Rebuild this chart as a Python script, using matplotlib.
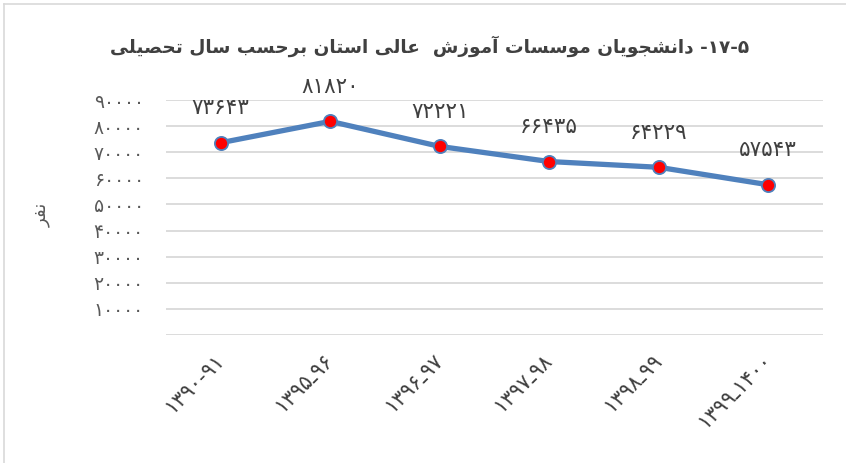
import matplotlib
matplotlib.use("Agg")
import matplotlib.pyplot as plt
from matplotlib.lines import Line2D

# ---------------- data ----------------
categories = ["۱۳۹۰-۹۱", "۱۳۹۵ـ۹۶", "۱۳۹۶ـ۹۷", "۱۳۹۷ـ۹۸", "۱۳۹۸ـ۹۹", "۱۳۹۹ـ۱۴۰۰"]
students = [73643, 81820, 72221, 66435, 64229, 57543]
yticks = [0, 10000, 20000, 30000, 40000, 50000, 60000, 70000, 80000, 90000]
title_number = "۵-۱۷-"
title_text = "دانشجویان موسسات آموزش  عالی استان برحسب سال تحصیلی"
ylabel_text = "نفر"

# ---------------- minimal Arabic/Persian shaping ----------------
FORMS = {
    '\u0627': ('\uFE8D', '\uFE8E', None, None),
    '\u0622': ('\uFE81', '\uFE82', None, None),
    '\u0628': ('\uFE8F', '\uFE90', '\uFE91', '\uFE92'),
    '\u062A': ('\uFE95', '\uFE96', '\uFE97', '\uFE98'),
    '\u062C': ('\uFE9D', '\uFE9E', '\uFE9F', '\uFEA0'),
    '\u062D': ('\uFEA1', '\uFEA2', '\uFEA3', '\uFEA4'),
    '\u062F': ('\uFEA9', '\uFEAA', None, None),
    '\u0631': ('\uFEAD', '\uFEAE', None, None),
    '\u0632': ('\uFEAF', '\uFEB0', None, None),
    '\u0633': ('\uFEB1', '\uFEB2', '\uFEB3', '\uFEB4'),
    '\u0634': ('\uFEB5', '\uFEB6', '\uFEB7', '\uFEB8'),
    '\u0635': ('\uFEB9', '\uFEBA', '\uFEBB', '\uFEBC'),
    '\u0639': ('\uFEC9', '\uFECA', '\uFECB', '\uFECC'),
    '\u0641': ('\uFED1', '\uFED2', '\uFED3', '\uFED4'),
    '\u0644': ('\uFEDD', '\uFEDE', '\uFEDF', '\uFEE0'),
    '\u0645': ('\uFEE1', '\uFEE2', '\uFEE3', '\uFEE4'),
    '\u0646': ('\uFEE5', '\uFEE6', '\uFEE7', '\uFEE8'),
    '\u0648': ('\uFEED', '\uFEEE', None, None),
    '\u06CC': ('\uFBFC', '\uFBFD', '\uFBFE', '\uFBFF'),
}


def shape_word(w):
    out = []
    for i, c in enumerate(w):
        if c not in FORMS:
            out.append(c)
            continue
        iso, fin, ini, med = FORMS[c]
        prev = w[i - 1] if i > 0 else None
        nxt = w[i + 1] if i + 1 < len(w) else None
        join_prev = prev in FORMS and FORMS[prev][2] is not None
        join_next = ini is not None and nxt in FORMS
        if join_prev and join_next:
            out.append(med)
        elif join_prev:
            out.append(fin)
        elif join_next:
            out.append(ini)
        else:
            out.append(iso)
    return ''.join(reversed(out))


def visual_rtl(text):
    return ' '.join(shape_word(w) for w in reversed(text.split(' ')))


def visual_number(s):
    return '-'.join(reversed(s.split('-')))


PERSIAN = str.maketrans("0123456789", "۰۱۲۳۴۵۶۷۸۹")


def fa(n):
    return str(n).translate(PERSIAN)


# ---------------- figure ----------------
plt.rcParams['font.family'] = ['DejaVu Sans']
W, H = 846, 463
fig = plt.figure(figsize=(W / 100, H / 100), dpi=100)
fig.patch.set_facecolor('white')

# chart-area border (left and top visible)
fig.add_artist(Line2D([3.5 / W, 3.5 / W], [0, 1 - 3.5 / H], transform=fig.transFigure,
                      color='#D9D9D9', lw=1.2))
fig.add_artist(Line2D([3.5 / W, 1], [1 - 3.5 / H, 1 - 3.5 / H], transform=fig.transFigure,
                      color='#D9D9D9', lw=1.2))

left, right, top, bottom = 166, 823, 100, 335
ax = fig.add_axes([left / W, 1 - bottom / H, (right - left) / W, (bottom - top) / H])

x = list(range(len(categories)))
ax.plot(x, students, color='#4F81BD', lw=3.8, solid_capstyle='round', zorder=3,
        marker='o', markersize=9.5, markerfacecolor='#FF0000',
        markeredgecolor='#4F81BD', markeredgewidth=1.3)

for xi, v in zip(x, students):
    ax.annotate(fa(v), (xi, v), xytext=(0, 25), textcoords='offset points',
                ha='center', va='center', fontsize=15.5, color='#404040')

ax.set_xlim(-0.5, len(categories) - 0.5)
ax.set_ylim(0, 90000)
ax.set_yticks(yticks)
ax.set_yticklabels(['' if t == 0 else fa(t) for t in yticks], fontsize=13.5, color='#595959')
ax.yaxis.grid(True, color='#D9D9D9', lw=1.3)
ax.set_axisbelow(True)
ax.tick_params(axis='y', length=0, pad=16)
ax.tick_params(axis='x', length=0, pad=16)
ax.set_xticks(x)
ax.set_xticklabels(categories, rotation=45, ha='right', va='center',
                   rotation_mode='anchor', fontsize=15, color='#404040')
for s in ax.spines.values():
    s.set_visible(False)

fig.text(42 / W, 1 - 215 / H, visual_rtl(ylabel_text), rotation=90, ha='center', va='center',
         fontsize=13, color='#595959')

fig.text(430 / W, 1 - 46 / H, visual_rtl(title_text) + ' ' + visual_number(title_number),
         ha='center', va='center', fontsize=13.3, fontweight='bold', color='#404040')

fig.savefig('out.png', dpi=100)
